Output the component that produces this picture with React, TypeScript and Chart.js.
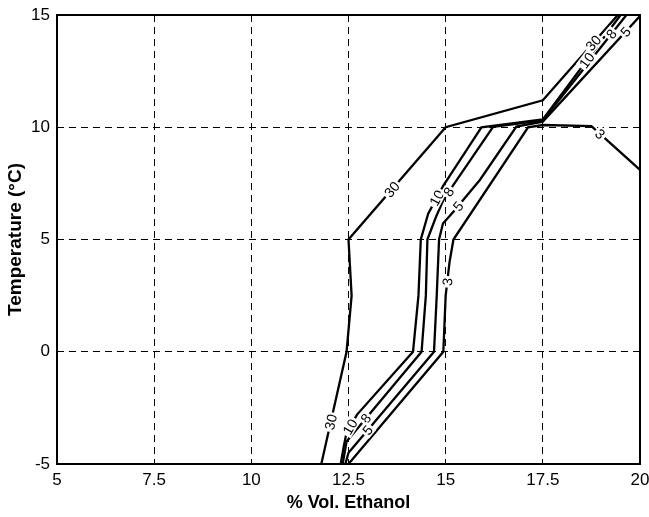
import React, { useEffect, useRef } from 'react';
import { Chart, registerables } from 'chart.js';

Chart.register(...registerables);

// Axis ticks
const xTicks = [5, 7.5, 10, 12.5, 15, 17.5, 20];
const yTicks = [-5, 0, 5, 10, 15];

// Contour levels (labels)
const levels = ['30', '10', '8', '5', '3'];

// Contour 30
const c30X = [11.8, 12.45, 12.58, 12.5, 15.0, 17.5, 19.43];
const c30Y = [-5, 0, 2.5, 5, 10, 11.2, 15];
// Contour 10
const c10X = [12.3, 12.38, 12.45, 12.72, 14.16, 14.3, 14.36, 14.55, 14.94, 15.92, 17.5, 19.5];
const c10Y = [-5, -4.2, -3.6, -2.8, 0, 2.5, 5, 6.15, 7.4, 10.0, 10.35, 15];
// Contour 8
const c8X = [12.35, 12.45, 14.38, 14.49, 14.53, 14.75, 14.94, 15.2, 16.22, 17.5, 19.65];
const c8Y = [-5, -4.0, 0, 2.5, 5, 6.0, 6.76, 7.43, 10.02, 10.3, 15];
// Contour 5
const c5X = [12.42, 12.5, 14.7, 14.77, 14.83, 14.93, 15.24, 15.45, 15.88, 16.82, 17.5, 20];
const c5Y = [-5, -4.5, 0, 2.5, 5, 5.71, 6.31, 6.76, 7.65, 10.03, 10.25, 14.95];
// Contour 3
const c3X = [12.5, 14.94, 15.0, 15.1, 15.2, 17.12, 17.5, 18.75, 20];
const c3Y = [-5, 0, 2.5, 4.0, 5, 10.0, 10.1, 10.05, 8.1];

// Contour label anchors (data coordinates)
const lab30X = [12.04, 13.64, 18.8];
const lab30Y = [-3.13, 7.2, 13.75];
const lab10X = [12.5, 14.77, 18.62];
const lab10Y = [-3.3, 6.85, 13.0];
const lab8X = [12.93, 15.07, 19.3];
const lab8Y = [-2.95, 7.13, 14.1];
const lab5X = [12.99, 15.32, 19.64];
const lab5Y = [-3.49, 6.49, 14.24];
const lab3X = [15.03, 18.95];
const lab3Y = [3.12, 9.65];

const FONT = '"Liberation Sans", Arial, Helvetica, sans-serif';

const zip = (xs: number[], ys: number[]) => xs.map((x, i) => ({ x, y: ys[i] }));

const lineSets = [
  zip(c30X, c30Y),
  zip(c10X, c10Y),
  zip(c8X, c8Y),
  zip(c5X, c5Y),
  zip(c3X, c3Y),
];
const labelSets = [
  zip(lab30X, lab30Y),
  zip(lab10X, lab10Y),
  zip(lab8X, lab8Y),
  zip(lab5X, lab5Y),
  zip(lab3X, lab3Y),
];

const contourLabelPlugin = {
  id: 'contourLabels',
  afterDatasetsDraw(chart: any) {
    const ctx = chart.ctx as CanvasRenderingContext2D;
    const xs = chart.scales.x;
    const ys = chart.scales.y;
    const area = chart.chartArea;
    ctx.save();
    ctx.beginPath();
    ctx.rect(area.left, area.top, area.right - area.left, area.bottom - area.top);
    ctx.clip();
    ctx.font = `14px ${FONT}`;
    ctx.textAlign = 'center';
    ctx.textBaseline = 'middle';
    chart.data.datasets.forEach((ds: any, di: number) => {
      const pts = ds.data.map((p: any) => ({
        x: xs.getPixelForValue(p.x),
        y: ys.getPixelForValue(p.y),
      }));
      labelSets[di].forEach((lp) => {
        const px = xs.getPixelForValue(lp.x);
        const py = ys.getPixelForValue(lp.y);
        let best = Infinity;
        let bx = px;
        let by = py;
        let ang = 0;
        for (let i = 0; i < pts.length - 1; i++) {
          const a = pts[i];
          const b = pts[i + 1];
          const dx = b.x - a.x;
          const dy = b.y - a.y;
          const len2 = dx * dx + dy * dy;
          let t = len2 > 0 ? ((px - a.x) * dx + (py - a.y) * dy) / len2 : 0;
          t = Math.max(0, Math.min(1, t));
          const qx = a.x + t * dx;
          const qy = a.y + t * dy;
          const d = (qx - px) ** 2 + (qy - py) ** 2;
          if (d < best) {
            best = d;
            bx = qx;
            by = qy;
            ang = Math.atan2(dy, dx);
          }
        }
        if (ang > Math.PI / 2) ang -= Math.PI;
        if (ang < -Math.PI / 2) ang += Math.PI;
        const text = ds.label as string;
        ctx.save();
        ctx.translate(bx, by);
        ctx.rotate(ang);
        const w = ctx.measureText(text).width;
        ctx.fillStyle = '#ffffff';
        ctx.fillRect(-w / 2 - 2, -6.5, w + 4, 13);
        ctx.fillStyle = '#000000';
        ctx.fillText(text, 0, 1);
        ctx.restore();
      });
    });
    ctx.restore();
  },
};

const framePlugin = {
  id: 'frame',
  afterDraw(chart: any) {
    const ctx = chart.ctx as CanvasRenderingContext2D;
    const a = chart.chartArea;
    ctx.save();
    ctx.strokeStyle = '#000';
    ctx.lineWidth = 2;
    ctx.setLineDash([]);
    ctx.strokeRect(a.left, a.top, a.right - a.left, a.bottom - a.top);
    ctx.restore();
  },
};

export default function App() {
  const ref = useRef<HTMLCanvasElement | null>(null);

  useEffect(() => {
    if (!ref.current) return;
    const chart = new Chart(ref.current, {
      type: 'scatter',
      data: {
        datasets: lineSets.map((d, i) => ({
          label: levels[i],
          data: d,
          showLine: true,
          borderColor: '#000',
          backgroundColor: '#000',
          borderWidth: 2.3,
          pointRadius: 0,
          pointHoverRadius: 0,
          tension: 0,
          fill: false,
        })),
      },
      options: {
        animation: false,
        responsive: false,
        events: [],
        layout: { padding: { top: 15, right: 9, left: 0, bottom: 0 } },
        plugins: {
          legend: { display: false },
          tooltip: { enabled: false },
        },
        scales: {
          x: {
            type: 'linear',
            min: 5,
            max: 20,
            afterBuildTicks: (s: any) => {
              s.ticks = xTicks.map((v) => ({ value: v }));
            },
            afterFit: (s: any) => {
              s.height = 53;
              s.paddingLeft = 0;
              s.paddingRight = 0;
            },
            ticks: {
              callback: (v: any) => String(v),
              font: { size: 17, family: FONT },
              color: '#000',
              padding: 6,
              maxRotation: 0,
              autoSkip: false,
            },
            grid: { color: '#000', lineWidth: 1, drawTicks: false },
            border: { display: false, dash: [7, 5] },
            title: {
              display: true,
              text: '% Vol. Ethanol',
              color: '#000',
              font: { size: 18, weight: 'bold', family: FONT },
              padding: { top: 0, bottom: 3 },
            },
          },
          y: {
            type: 'linear',
            min: -5,
            max: 15,
            afterBuildTicks: (s: any) => {
              s.ticks = yTicks.map((v) => ({ value: v }));
            },
            afterFit: (s: any) => {
              s.width = 57;
              s.paddingTop = 0;
              s.paddingBottom = 0;
            },
            ticks: {
              callback: (v: any) => String(v),
              font: { size: 17, family: FONT },
              color: '#000',
              padding: 7,
              autoSkip: false,
            },
            grid: { color: '#000', lineWidth: 1, drawTicks: false },
            border: { display: false, dash: [7, 5] },
            title: {
              display: true,
              text: 'Temperature (°C)',
              color: '#000',
              font: { size: 19, weight: 'bold', family: FONT },
              padding: { top: 4, bottom: 0 },
            },
          },
        },
      },
      plugins: [contourLabelPlugin, framePlugin],
    } as any);
    return () => chart.destroy();
  }, []);

  return (
    <div style={{ position: 'absolute', left: 0, top: 0, width: 649, height: 517, background: '#fff' }}>
      <canvas ref={ref} width={649} height={517} style={{ display: 'block' }} />
    </div>
  );
}
